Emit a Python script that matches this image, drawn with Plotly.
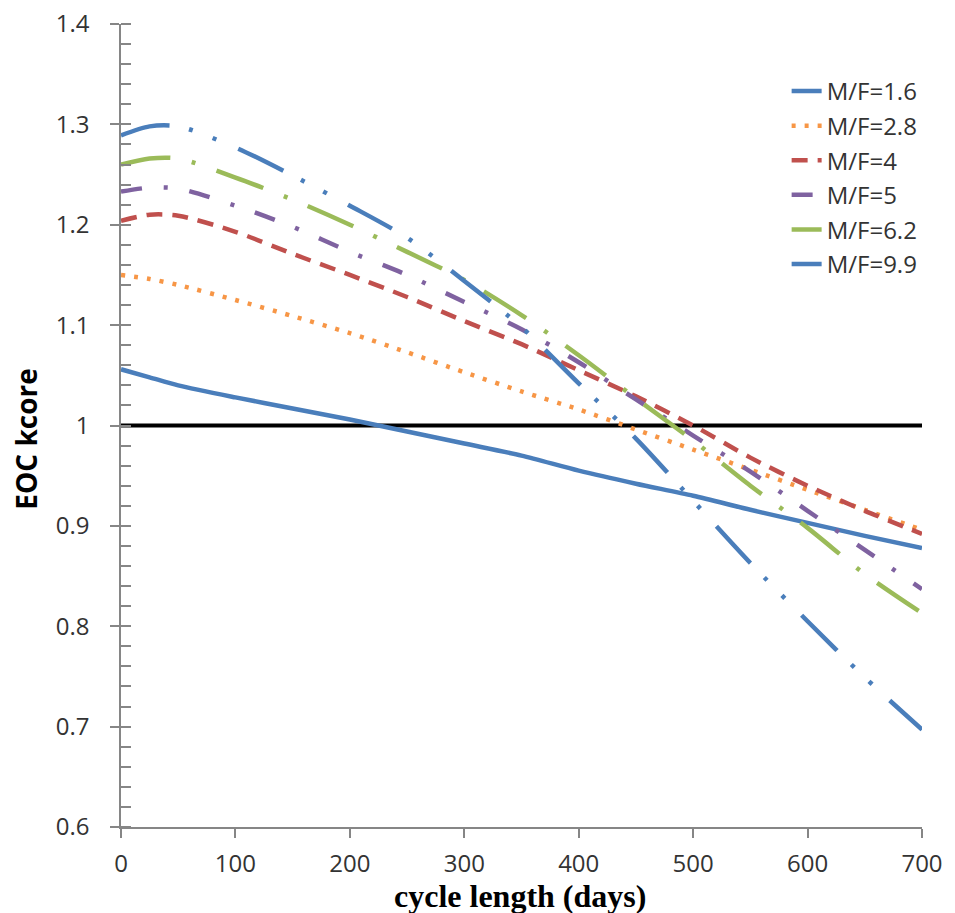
import plotly.graph_objects as go

cycle_days = [0, 25, 50, 100, 150, 200, 250, 300, 350, 400, 450, 500, 550, 600, 650, 700]

mf_1_6 = [1.056, 1.048, 1.040, 1.028, 1.017, 1.006, 0.994, 0.982, 0.970, 0.955, 0.942, 0.930, 0.916, 0.903, 0.890, 0.878]
mf_2_8 = [1.150, 1.146, 1.140, 1.125, 1.109, 1.092, 1.073, 1.053, 1.034, 1.016, 0.996, 0.976, 0.956, 0.936, 0.916, 0.896]
mf_4 = [1.204, 1.210, 1.209, 1.193, 1.171, 1.150, 1.128, 1.104, 1.081, 1.055, 1.029, 1.000, 0.968, 0.940, 0.915, 0.892]
mf_5 = [1.233, 1.237, 1.236, 1.219, 1.198, 1.173, 1.150, 1.123, 1.096, 1.063, 1.026, 0.990, 0.954, 0.915, 0.876, 0.837]
mf_6_2 = [1.260, 1.266, 1.266, 1.247, 1.225, 1.200, 1.173, 1.145, 1.110, 1.070, 1.027, 0.985, 0.940, 0.898, 0.852, 0.813]
mf_9_9 = [1.289, 1.298, 1.298, 1.277, 1.249, 1.219, 1.187, 1.144, 1.098, 1.042, 0.987, 0.925, 0.863, 0.805, 0.749, 0.697]

series_names = ["M/F=1.6", "M/F=2.8", "M/F=4", "M/F=5", "M/F=6.2", "M/F=9.9"]
series_values = [mf_1_6, mf_2_8, mf_4, mf_5, mf_6_2, mf_9_9]
series_colors = ["#4A7EBB", "#F79646", "#C0504D", "#7F62A0", "#9BBB59", "#4A7EBB"]
series_dashes = [
    "solid",
    "4px,9px",
    "16px,10px",
    "21px,22px,4px,22px",
    "50px,22px,4px,22px",
    "50px,20px,4px,21px,4px,24px",
]

ref_x = [0, 700]
ref_y = [1, 1]

y_ticks = [0.6, 0.7, 0.8, 0.9, 1.0, 1.1, 1.2, 1.3, 1.4]
x_ticks = [0, 100, 200, 300, 400, 500, 600, 700]

AXIS_GRAY = "#868686"
TEXT = "#333333"

fig = go.Figure()

fig.add_trace(go.Scatter(x=ref_x, y=ref_y, mode="lines",
                         line=dict(color="black", width=4), showlegend=False,
                         hoverinfo="skip"))

for name, vals, col, dash in zip(series_names, series_values, series_colors, series_dashes):
    fig.add_trace(go.Scatter(
        x=cycle_days, y=vals, mode="lines", name=name, legendgroup=name,
        line=dict(color=col, width=4.5, dash=dash, shape="spline", smoothing=0.8),
    ))

fig.update_layout(
    width=947, height=905,
    margin=dict(l=113, r=29, t=16, b=86),
    paper_bgcolor="white", plot_bgcolor="white",
    font=dict(family="Open Sans", size=24, color=TEXT),
    showlegend=True,
    legend=dict(
        x=0.831, y=0.944, xanchor="left", yanchor="top",
        bgcolor="rgba(0,0,0,0)", borderwidth=0,
        font=dict(family="Open Sans", size=24, color=TEXT),
        tracegroupgap=0.4,
    ),
    xaxis=dict(
        range=[0, 700], tickvals=x_ticks, showgrid=False, zeroline=False,
        showline=True, linecolor=AXIS_GRAY, linewidth=1.5,
        ticks="outside", ticklen=9, tickcolor=AXIS_GRAY, tickwidth=1.5,
        ticklabelstandoff=5, ticklabeloverflow="allow",
        tickfont=dict(family="Open Sans", size=24, color=TEXT),
    ),
    yaxis=dict(
        range=[0.6, 1.4], tickvals=y_ticks, showgrid=False, zeroline=False,
        showline=True, linecolor=AXIS_GRAY, linewidth=1.5,
        ticks="outside", ticklen=9, tickcolor=AXIS_GRAY, tickwidth=1.5,
        ticklabelstandoff=16, ticklabeloverflow="allow", automargin=False,
        tickfont=dict(family="Open Sans", size=24, color=TEXT),
        minor=dict(dtick=0.02, ticks="inside", ticklen=10, tickcolor=AXIS_GRAY, tickwidth=1.5, showgrid=False),
    ),
    yaxis2=dict(
        range=[0.6, 1.4], overlaying="y", side="left", anchor="x",
        tickvals=y_ticks, showticklabels=False, showgrid=False, zeroline=False,
        showline=False, ticks="inside", ticklen=10, tickcolor=AXIS_GRAY, tickwidth=1.5,
    ),
    annotations=[
        dict(text="cycle length (days)", x=0.498, y=-0.0855, xref="paper", yref="paper",
             xanchor="center", yanchor="middle", showarrow=False,
             font=dict(family="Liberation Serif", size=32, color="black", weight="bold")),
        dict(text="EOC kcore", x=-0.118, y=0.483, xref="paper", yref="paper",
             xanchor="center", yanchor="middle", showarrow=False, textangle=-90,
             font=dict(family="Open Sans", size=28, color="black", weight="bold")),
    ],
)

fig.write_html("out.html")
